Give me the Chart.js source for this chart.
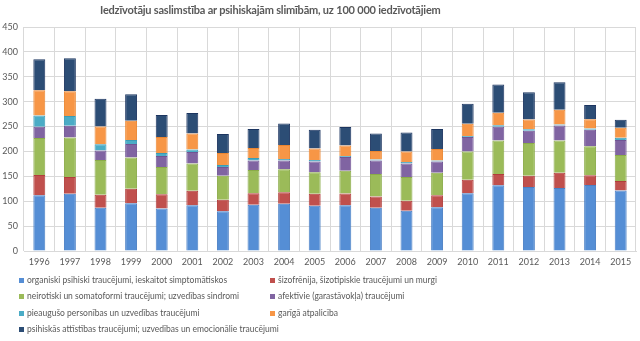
<!DOCTYPE html>
<html>
<head>
<meta charset="utf-8">
<script src="https://cdn.jsdelivr.net/npm/chart.js@4"></script>
<style>
  html, body { margin: 0; padding: 0; background: #fff; }
  .wrap { position: relative; width: 640px; height: 341px; font-family: Lato, 'Liberation Sans', sans-serif; color: #595959; }
  canvas { position: absolute; left: 0; top: 0; }
  .title { position: absolute; top: 3px; left: 100px; width: 318px; text-align: center; font-size: 11px; font-weight: bold; white-space: nowrap; letter-spacing: -0.2px; }
  .legend { position: absolute; left: 0; top: 0; font-size: 8.5px; }
  .legend-item { position: absolute; white-space: nowrap; line-height: 10px; }
  .legend-item span.box { display: inline-block; width: 5px; height: 5px; margin-right: 3px; vertical-align: 0px; }
</style>
</head>
<body>
<div class="wrap">
  <canvas id="chart" width="640" height="341"></canvas>
  <div class="title" id="title"></div>
  <div class="legend" id="legend"></div>
</div>
<script>
const titleText = 'Iedzīvotāju saslimstība ar psihiskajām slimībām, uz 100 000 iedzīvotājiem';

const years = ['1996', '1997', '1998', '1999', '2000', '2001', '2002', '2003', '2004', '2005',
  '2006', '2007', '2008', '2009', '2010', '2011', '2012', '2013', '2014', '2015'];

const organic = [112, 115, 87, 96, 85.6, 92, 80, 93, 95, 91, 92, 87, 81, 88, 116, 132, 128.4, 126.4, 132.4, 121.7];
const schizo = [40.5, 33.5, 26, 29, 28.4, 29, 23, 23, 23, 24, 23.7, 22.7, 20, 24, 27, 22.5, 22.6, 30.6, 20, 18.8];
const neurotic = [74.5, 79.5, 70, 63, 54.6, 55, 48, 46.5, 46, 43, 45.3, 44.8, 47.5, 45, 57, 67.5, 66, 65, 58.2, 52.5];
const affective = [22.5, 23.5, 19, 27, 22.4, 22.7, 18, 19.5, 18, 22, 27.6, 27.5, 27.5, 23, 28.8, 27.5, 24.5, 30, 32.8, 30];
const personality = [22.5, 19.5, 12.7, 8, 6, 5.3, 4, 4.6, 3, 2.6, 2, 2, 3, 2, 2, 3.3, 3.3, 2, 2.5, 4.4];
const retardation = [51, 50, 35.3, 38.5, 32, 32, 23.7, 20.4, 27.7, 23.4, 21.4, 16.7, 21, 22.7, 24.7, 24.8, 19.2, 29.6, 19, 20.1];
const development = [62, 66, 55.7, 53.5, 44, 41, 38.1, 38, 43.3, 37.5, 37, 35.3, 38, 40.3, 40.5, 56.8, 55, 55.4, 28.6, 16];

const yTicks = [0, 50, 100, 150, 200, 250, 300, 350, 400, 450];

const series = [
  { label: 'organiski psihiski traucējumi, ieskaitot simptomātiskos', data: organic, color: '#558ed5', border: '#4a7fc4' },
  { label: 'šizofrēnija, šizotipiskie traucējumi un murgi', data: schizo, color: '#c0504d', border: '#b03e3b' },
  { label: 'neirotiski un somatoformi traucējumi; uzvedības sindromi', data: neurotic, color: '#9bbb59', border: '#8aab48' },
  { label: 'afektīvie (garastāvokļa) traucējumi', data: affective, color: '#8064a2', border: '#705494' },
  { label: 'pieaugušo personības un uzvedības traucējumi', data: personality, color: '#4bacc6', border: '#3a9cb6' },
  { label: 'garīgā atpalicība', data: retardation, color: '#f79646', border: '#ea8530' },
  { label: 'psihiskās attīstības traucējumi; uzvedības un emocionālie traucējumi', data: development, color: '#2c4d75', border: '#1c3560' },
];

document.getElementById('title').textContent = titleText;

function renderLegend() {
  const container = document.getElementById('legend');
  const cols = [19, 270];
  const rows = [275, 291, 308, 324];
  series.forEach((s, i) => {
    const item = document.createElement('div');
    item.className = 'legend-item';
    item.style.left = cols[i % 2] + 'px';
    item.style.top = rows[Math.floor(i / 2)] + 'px';
    item.innerHTML = `<span class="box" style="background:${s.color}"></span>${s.label}`;
    container.appendChild(item);
  });
}

renderLegend();

new Chart(document.getElementById('chart'), {
  type: 'bar',
  data: {
    labels: years,
    datasets: series.map((s) => ({
      label: s.label,
      data: s.data,
      backgroundColor: s.color,
      borderColor: s.border,
      borderWidth: 1,
      barPercentage: 0.75,
      categoryPercentage: 0.52,
    })),
  },
  options: {
    responsive: false,
    animation: false,
    layout: { padding: { left: 0, right: 4, top: 27, bottom: 0 } },
    plugins: {
      legend: { display: false },
      title: { display: false },
      tooltip: { enabled: false },
    },
    scales: {
      x: {
        stacked: true,
        grid: { color: '#d9d9d9', drawTicks: false, offset: true },
        border: { color: '#d9d9d9' },
        ticks: { color: '#595959', font: { family: 'Lato', size: 9 }, padding: 6, maxRotation: 0 },
        afterFit: (scale) => { scale.height = 90; },
      },
      y: {
        stacked: true,
        min: 0,
        max: 450,
        grid: { color: '#d9d9d9', drawTicks: false },
        border: { display: false },
        afterBuildTicks: (scale) => { scale.ticks = yTicks.map((v) => ({ value: v })); },
        ticks: { color: '#595959', font: { family: 'Lato', size: 9 }, padding: 6 },
        afterFit: (scale) => { scale.width = 24; },
      },
    },
  },
});
</script>
</body>
</html>
